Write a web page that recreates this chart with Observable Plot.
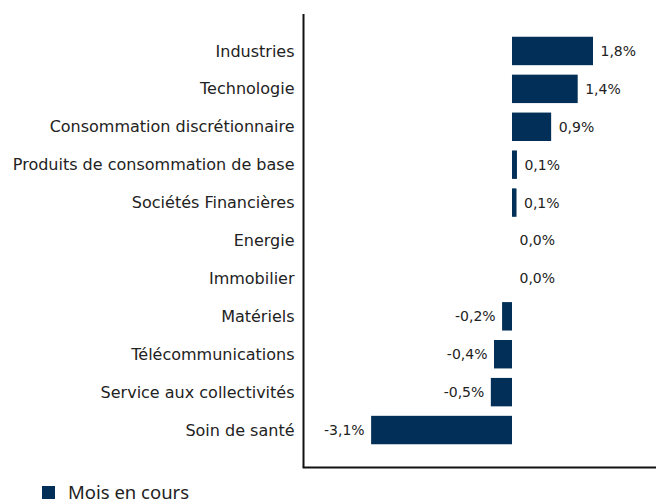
<!DOCTYPE html>
<html><head><meta charset="utf-8">
<script src="https://cdn.jsdelivr.net/npm/d3@7"></script>
<script src="https://cdn.jsdelivr.net/npm/@observablehq/plot@0.6"></script>
<style>
body{margin:0;background:#fff;}
#chart{position:relative;width:656px;height:502px;overflow:hidden;}
.legend{position:absolute;left:42px;top:483px;display:flex;align-items:center;font-family:"Noto Sans",sans-serif;font-size:18.5px;line-height:18px;color:#222;}
.legend .sw{width:13px;height:13px;background:#022f57;margin-right:13px;}
</style></head>
<body><div id="chart"></div>
<script>
const sectors = ["Industries","Technologie","Consommation discrétionnaire","Produits de consommation de base","Sociétés Financières","Energie","Immobilier","Matériels","Télécommunications","Service aux collectivités","Soin de santé"];
const values = [1.8, 1.46, 0.87, 0.11, 0.1, 0, 0, -0.22, -0.4, -0.47, -3.13];
const labels = ["1,8%","1,4%","0,9%","0,1%","0,1%","0,0%","0,0%","-0,2%","-0,4%","-0,5%","-3,1%"];
const seriesName = "Mois en cours";
const xDomain = [-4.644, 3.2];

const data = sectors.map((s,i)=>({sector:s, value:values[i], label:labels[i]}));
const color = "#022f57";

const plot = Plot.plot({
  width: 656, height: 481,
  marginLeft: 303, marginRight: 0, marginTop: 14, marginBottom: 14,
  style: {fontFamily: "'DejaVu Sans', sans-serif", fontSize: "16px", color: "#222", background: "#fff"},
  x: {domain: xDomain, axis: null},
  y: {domain: sectors, paddingInner: 0.25, paddingOuter: 0.6, round: false, label: null, tickSize: 0, tickPadding: 9},
  marks: [
    Plot.barX(data, {x: "value", y: "sector", fill: color}),
    Plot.text(data.filter(d => d.value >= 0), {x: "value", y: "sector", text: "label", textAnchor: "start", dx: 7, fill: "#222", fontSize: 14}),
    Plot.text(data.filter(d => d.value < 0), {x: "value", y: "sector", text: "label", textAnchor: "end", dx: -7, fill: "#222", fontSize: 14}),
    Plot.ruleX([xDomain[0]], {stroke: "#111", strokeWidth: 2}),
    Plot.frame({anchor: "bottom", stroke: "#111", strokeWidth: 2})
  ]
});
document.getElementById("chart").appendChild(plot);
const lg = document.createElement("div");
lg.className = "legend";
lg.innerHTML = `<span class="sw"></span><span>${seriesName}</span>`;
document.getElementById("chart").appendChild(lg);
</script></body></html>
